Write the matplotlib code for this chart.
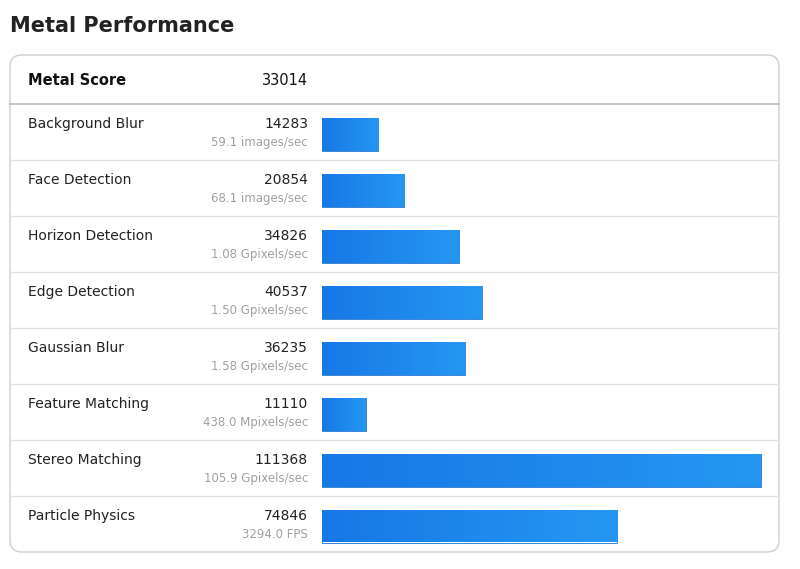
import numpy as np
import matplotlib
matplotlib.use('Agg')
import matplotlib.pyplot as plt
from matplotlib.patches import FancyBboxPatch

title = 'Metal Performance'
total_label = 'Metal Score'
total_score = 33014
names = ['Background Blur', 'Face Detection', 'Horizon Detection', 'Edge Detection',
         'Gaussian Blur', 'Feature Matching', 'Stereo Matching', 'Particle Physics']
scores = [14283, 20854, 34826, 40537, 36235, 11110, 111368, 74846]
rates = ['59.1 images/sec', '68.1 images/sec', '1.08 Gpixels/sec', '1.50 Gpixels/sec',
         '1.58 Gpixels/sec', '438.0 Mpixels/sec', '105.9 Gpixels/sec', '3294.0 FPS']

fig = plt.figure(figsize=(8, 5.69), dpi=100)
ax = fig.add_axes([0, 0, 1, 1])
ax.set_xlim(0, 800)
ax.set_ylim(569, 0)
ax.axis('off')

font = 'DejaVu Sans'
ax.text(10, 26, title, fontsize=15, fontweight='bold', va='center', color='#222222', family=font)

card = FancyBboxPatch((10, 55), 769, 497, boxstyle='round,pad=0,rounding_size=12',
                      fc='white', ec='#cfcfcf', lw=1)
ax.add_patch(card)

ax.text(28, 80, total_label, fontsize=10.5, fontweight='bold', va='center', color='#111111', family=font)
ax.text(308, 80, str(total_score), fontsize=10.5, ha='right', va='center', color='#111111', family=font)
ax.plot([10, 779], [104, 104], color='#bdbdbd', lw=1.2)

row_h = 56
top = 104
bar_x0 = 322
px_per_unit = 439 / max(scores)
grad = np.linspace(0, 1, 256).reshape(1, -1)
cmap = matplotlib.colors.LinearSegmentedColormap.from_list('g', ['#1778e6', '#2597f2'])

for i, (n, s, r) in enumerate(zip(names, scores, rates)):
    yc = top + row_h * i + row_h / 2
    if i > 0:
        ax.plot([10, 779], [top + row_h * i] * 2, color='#e2e2e2', lw=1)
    ax.text(28, yc - 8, n, fontsize=10, va='center', color='#222222', family=font)
    ax.text(308, yc - 8, str(s), fontsize=10, ha='right', va='center', color='#222222', family=font)
    ax.text(308, yc + 10, r, fontsize=8.5, ha='right', va='center', color='#a0a0a0', family=font)
    w = s * px_per_unit
    bars = ax.barh(yc + 2, w, height=33, left=bar_x0, color='none', ec='#1a6fd0', lw=0.6)
    b = bars[0]
    im = ax.imshow(grad, cmap=cmap, aspect='auto',
                   extent=(bar_x0, bar_x0 + w, yc + 2 + 16.5, yc + 2 - 16.5), zorder=1)
    im.set_clip_path(b)

ax.set_xlim(0, 800)
ax.set_ylim(569, 0)
fig.savefig('out.png', dpi=100, facecolor='white')
